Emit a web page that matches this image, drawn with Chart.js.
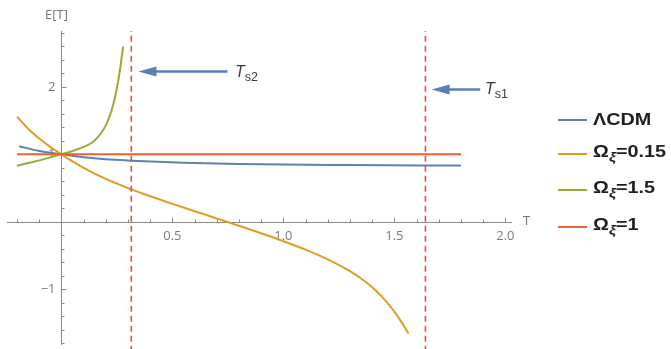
<!DOCTYPE html>
<html>
<head>
<meta charset="utf-8">
<script src="https://cdn.jsdelivr.net/npm/chart.js@4"></script>
<style>
  body { margin: 0; background: #fff; }
  #wrap { position: relative; width: 671px; height: 349px; overflow: hidden; }
  canvas { position: absolute; left: 0; top: 0; }
  .axlbl { position: absolute; font-family: "Open Sans", sans-serif; font-size: 13px; color: #777; line-height: 1; white-space: nowrap; }
  .ts { position: absolute; font-family: "Liberation Sans", Arial, sans-serif; font-size: 15px; color: #3a3a3a; line-height: 1; white-space: nowrap; }
  .ts i { font-size: 16px; }
  .ts sub { font-size: 12.5px; vertical-align: -4px; }
  .leg { position: absolute; font-family: "Liberation Sans", Arial, sans-serif; font-weight: bold; font-size: 16.5px; color: #1e1e1e; line-height: 1; white-space: nowrap; transform: translateY(-55%) scaleX(1.2); transform-origin: left center; }
  .leg sub { font-size: 13px; font-style: italic; vertical-align: -4px; }
  .legline { position: absolute; width: 29px; height: 2px; left: 558px; }
</style>
</head>
<body>
<div id="wrap">
  <canvas id="chart" width="671" height="349"></canvas>
  <div class="axlbl" style="left:45px;top:8px">E[T]</div>
  <div class="axlbl" style="left:523px;top:214px">T</div>
  <div class="ts" style="left:235px;top:64px"><i>T</i><sub>s2</sub></div>
  <div class="ts" style="left:485px;top:81px"><i>T</i><sub>s1</sub></div>

  <div class="legline" style="top:119px;background:#5E81B5"></div>
  <div class="leg" style="left:593px;top:120px">ΛCDM</div>
  <div class="legline" style="top:153px;background:#E19C24"></div>
  <div class="leg" style="left:593px;top:154px">Ω<sub>ξ</sub>=0.15</div>
  <div class="legline" style="top:189px;background:#8FB032"></div>
  <div class="leg" style="left:593px;top:190px">Ω<sub>ξ</sub>=1.5</div>
  <div class="legline" style="top:226px;background:#EB6235"></div>
  <div class="leg" style="left:593px;top:227px">Ω<sub>ξ</sub>=1</div>
</div>

<script>
/* ---------- data ---------- */
const seriesNames = ["ΛCDM", "Ωξ=0.15", "Ωξ=1.5", "Ωξ=1"];

const lcdmT = [-0.19, -0.1, 0, 0.1, 0.2, 0.315, 0.55, 0.8, 1.3, 1.8];
const lcdmE = [1.12, 1.05, 1, 0.955, 0.925, 0.905, 0.875, 0.855, 0.84, 0.833];

const om015T = [-0.2, -0.15, -0.1, -0.05, 0, 0.05, 0.1, 0.2, 0.315, 0.4, 0.5, 0.6, 0.7, 0.8, 0.9, 1.0, 1.1, 1.2, 1.3, 1.35, 1.4, 1.45, 1.5, 1.53, 1.564];
const om015E = [1.56, 1.38, 1.235, 1.11, 1, 0.895, 0.80, 0.635, 0.48, 0.378, 0.265, 0.156, 0.048, -0.061, -0.172, -0.289, -0.415, -0.56, -0.735, -0.843, -0.973, -1.135, -1.335, -1.479, -1.66];

const om15T = [-0.2, -0.15, -0.1, -0.05, 0, 0.05, 0.1, 0.12, 0.14, 0.16, 0.18, 0.2, 0.22, 0.236, 0.25, 0.263, 0.27, 0.278];
const om15E = [0.83, 0.87, 0.91, 0.955, 1, 1.05, 1.11, 1.14, 1.18, 1.24, 1.32, 1.43, 1.59, 1.77, 1.98, 2.23, 2.40, 2.6];

const om1T = [-0.2, 1.8];
const om1E = [1, 1];

const singularT = [0.315, 1.64];          // T_s2, T_s1 dashed markers

const xTickLabels = [0.5, 1.0, 1.5, 2.0];
const yTickLabels = [-1, 1, 2];
const xMinorTicks = [-0.2, -0.1, 0.1, 0.2, 0.3, 0.4, 0.5, 0.6, 0.7, 0.8, 0.9, 1.0, 1.1, 1.2, 1.3, 1.4, 1.5, 1.6, 1.7, 1.8, 1.9, 2.0];
const yMinorTicks = [-1.8, -1.6, -1.4, -1.2, -1.0, -0.8, -0.6, -0.4, -0.2, 0.2, 0.4, 0.6, 0.8, 1.0, 1.2, 1.4, 1.6, 1.8, 2.0, 2.2, 2.4, 2.6, 2.8];

// annotation arrows (tail T, tip T, at E)
const arrows = [
  { from: 0.748, to: 0.347, at: 2.23 },
  { from: 1.887, to: 1.668, at: 1.96 }
];

const X_MIN = -0.245, X_MAX = 2.03, Y_MIN = -1.83, Y_MAX = 2.83;

/* ---------- helpers ---------- */
const pts = (xs, ys) => xs.map((v, i) => ({ x: v, y: ys[i] }));
const isMajor = (v, list) => list.some(t => Math.abs(t - v) < 1e-6);

/* ---------- axes through the origin, Mathematica style ---------- */
const axesPlugin = {
  id: "originAxes",
  beforeDatasetsDraw(chart) {
    const { ctx, scales: { x, y } } = chart;
    const x0 = Math.round(x.getPixelForValue(0)) + 0.5;
    const y0 = Math.round(y.getPixelForValue(0)) + 0.5;
    ctx.save();
    ctx.strokeStyle = "#8a8a8a"; ctx.lineWidth = 1;
    ctx.beginPath();
    ctx.moveTo(x.left, y0); ctx.lineTo(x.right, y0);
    ctx.moveTo(x0, y.top);  ctx.lineTo(x0, y.bottom);
    xMinorTicks.forEach(v => {
      const px = Math.round(x.getPixelForValue(v)) + 0.5;
      ctx.moveTo(px, y0); ctx.lineTo(px, y0 - (isMajor(v, xTickLabels) ? 5 : 3));
    });
    yMinorTicks.forEach(v => {
      const py = Math.round(y.getPixelForValue(v)) + 0.5;
      ctx.moveTo(x0, py); ctx.lineTo(x0 + (isMajor(v, yTickLabels) ? 5 : 3), py);
    });
    ctx.stroke();

    ctx.fillStyle = "#7a7a7a";
    ctx.font = '13px "Open Sans", sans-serif';
    ctx.textAlign = "center"; ctx.textBaseline = "middle";
    xTickLabels.forEach(v => ctx.fillText(v.toFixed(1), x.getPixelForValue(v), y0 + 14));
    ctx.textAlign = "right";
    yTickLabels.forEach(v => ctx.fillText(v < 0 ? "\u2212" + Math.abs(v) : String(v), x0 - 6, y.getPixelForValue(v)));
    ctx.restore();
  },
  afterDatasetsDraw(chart) {
    const { ctx, scales: { x, y } } = chart;
    ctx.save();
    ctx.strokeStyle = ctx.fillStyle = "#5B7DB9";
    ctx.lineWidth = 2.5;
    arrows.forEach(a => {
      const tail = x.getPixelForValue(a.from), tip = x.getPixelForValue(a.to), py = y.getPixelForValue(a.at);
      ctx.beginPath(); ctx.moveTo(tail, py); ctx.lineTo(tip + 12, py); ctx.stroke();
      ctx.beginPath(); ctx.moveTo(tip, py); ctx.lineTo(tip + 18, py - 5); ctx.lineTo(tip + 18, py + 5); ctx.closePath(); ctx.fill();
    });
    ctx.restore();
  }
};

const curve = (data, color, order) => ({
  data, borderColor: color, borderWidth: 2, pointRadius: 0,
  showLine: true, fill: false, cubicInterpolationMode: "monotone", order
});

const dashed = t => ({
  data: pts([t, t], [Y_MIN - 0.1, Y_MAX]),
  borderColor: "#F5474B", borderWidth: 1.6, borderDash: [6, 4],
  pointRadius: 0, showLine: true, fill: false, order: 0, clip: false
});

new Chart(document.getElementById("chart"), {
  type: "scatter",
  data: {
    datasets: [
      { label: seriesNames[0], ...curve(pts(lcdmT, lcdmE), "#5E81B5", 4) },
      { label: seriesNames[1], ...curve(pts(om015T, om015E), "#E19C24", 3) },
      { label: seriesNames[2], ...curve(pts(om15T, om15E), "#8FB032", 2) },
      { label: seriesNames[3], ...curve(pts(om1T, om1E), "#EB6235", 1) },
      ...singularT.map(dashed)
    ]
  },
  options: {
    responsive: false,
    animation: false,
    devicePixelRatio: 1,
    layout: { padding: { left: 7, right: 159, top: 31, bottom: 4 } },
    scales: {
      x: { type: "linear", min: X_MIN, max: X_MAX, display: false },
      y: { type: "linear", min: Y_MIN, max: Y_MAX, display: false }
    },
    plugins: { legend: { display: false }, tooltip: { enabled: false } }
  },
  plugins: [axesPlugin]
});
</script>
</body>
</html>
